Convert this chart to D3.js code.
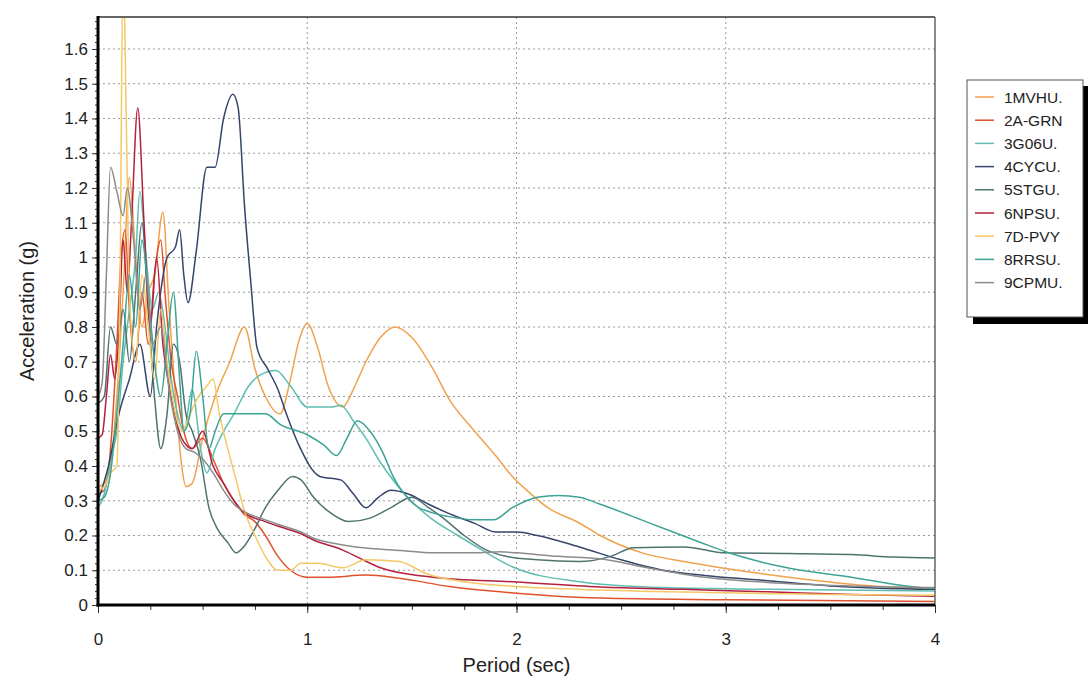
<!DOCTYPE html>
<html>
<head>
<meta charset="utf-8">
<script src="https://cdn.jsdelivr.net/npm/d3@7"></script>
<style>
  body { margin: 0; background: #fff; }
  svg { font-family: "Liberation Sans", Arial, sans-serif; }
</style>
</head>
<body>
<svg id="chart" width="1088" height="682"></svg>
<script>
// station names and line colours (legend order)
const stations = ["1MVHU.", "2A-GRN", "3G06U.", "4CYCU.", "5STGU.", "6NPSU.", "7D-PVY", "8RRSU.", "9CPMU."];
const colors = ["#f0a24e", "#e0522c", "#5fbdb1", "#34446b", "#4f7470", "#b3203e", "#f5c865", "#3da395", "#8c8c8c"];

// spectra: [period (sec), acceleration (g)]
const mvhu = [[0,0.34],[0.03,0.35],[0.06,0.4],[0.09,0.6],[0.12,0.9],[0.15,1.23],[0.18,1.0],[0.21,0.8],[0.24,0.9],[0.27,0.95],[0.31,1.13],[0.34,0.85],[0.37,0.6],[0.4,0.4],[0.42,0.34],[0.45,0.35],[0.5,0.48],[0.56,0.6],[0.63,0.7],[0.7,0.8],[0.75,0.68],[0.8,0.6],[0.87,0.55],[0.92,0.65],[0.96,0.76],[1.0,0.81],[1.05,0.74],[1.1,0.63],[1.17,0.57],[1.22,0.62],[1.28,0.7],[1.35,0.77],[1.42,0.8],[1.5,0.77],[1.6,0.68],[1.68,0.59],[1.8,0.5],[1.9,0.43],[1.98,0.37],[2.05,0.33],[2.15,0.28],[2.3,0.236],[2.4,0.2],[2.6,0.15],[2.8,0.125],[3.0,0.105],[3.3,0.08],[3.6,0.06],[4.0,0.045]];
const agrn = [[0,0.32],[0.03,0.33],[0.06,0.45],[0.09,0.75],[0.11,1.0],[0.13,1.08],[0.15,0.85],[0.18,0.7],[0.21,0.9],[0.24,0.75],[0.27,0.95],[0.3,1.05],[0.32,0.9],[0.35,0.7],[0.38,0.6],[0.41,0.5],[0.45,0.45],[0.5,0.48],[0.55,0.42],[0.6,0.35],[0.65,0.3],[0.7,0.26],[0.75,0.24],[0.8,0.2],[0.86,0.14],[0.92,0.1],[1.0,0.08],[1.1,0.08],[1.28,0.086],[1.44,0.077],[1.68,0.053],[2.0,0.034],[2.4,0.02],[3.0,0.015],[4.0,0.01]];
const g06u = [[0,0.28],[0.03,0.32],[0.06,0.42],[0.09,0.5],[0.12,0.7],[0.15,0.85],[0.18,1.0],[0.2,1.19],[0.23,1.0],[0.26,0.85],[0.29,0.9],[0.32,0.8],[0.35,0.65],[0.38,0.55],[0.41,0.5],[0.45,0.62],[0.49,0.45],[0.52,0.38],[0.56,0.45],[0.6,0.5],[0.65,0.55],[0.72,0.63],[0.77,0.66],[0.85,0.675],[0.92,0.63],[1.0,0.57],[1.06,0.57],[1.12,0.57],[1.16,0.575],[1.22,0.53],[1.28,0.48],[1.35,0.41],[1.48,0.31],[1.59,0.25],[1.72,0.2],[1.83,0.16],[1.98,0.11],[2.3,0.067],[2.7,0.05],[3.2,0.045],[4.0,0.04]];
const cycu = [[0,0.3],[0.05,0.4],[0.1,0.55],[0.15,0.65],[0.2,0.75],[0.25,0.6],[0.28,0.8],[0.33,1.0],[0.37,1.03],[0.39,1.08],[0.41,0.95],[0.43,0.87],[0.47,1.02],[0.52,1.26],[0.56,1.26],[0.6,1.4],[0.645,1.47],[0.67,1.43],[0.7,1.15],[0.73,0.93],[0.76,0.74],[0.81,0.68],[0.86,0.62],[0.9,0.55],[0.96,0.46],[1.06,0.37],[1.16,0.36],[1.22,0.32],[1.28,0.28],[1.34,0.31],[1.4,0.33],[1.48,0.32],[1.58,0.29],[1.67,0.265],[1.8,0.235],[1.9,0.21],[2.0,0.21],[2.1,0.2],[2.3,0.167],[2.5,0.13],[2.7,0.1],[2.9,0.085],[3.2,0.07],[3.5,0.055],[4.0,0.045]];
const stgu = [[0,0.58],[0.03,0.6],[0.06,0.8],[0.09,0.75],[0.12,0.85],[0.15,0.7],[0.18,0.9],[0.21,1.1],[0.24,0.85],[0.27,0.6],[0.3,0.45],[0.33,0.55],[0.36,0.75],[0.39,0.7],[0.42,0.55],[0.45,0.5],[0.49,0.42],[0.53,0.28],[0.57,0.22],[0.62,0.18],[0.66,0.15],[0.7,0.17],[0.75,0.22],[0.8,0.28],[0.86,0.33],[0.93,0.37],[0.97,0.36],[1.03,0.31],[1.1,0.27],[1.2,0.24],[1.3,0.25],[1.4,0.28],[1.5,0.31],[1.58,0.28],[1.65,0.25],[1.75,0.2],[1.85,0.16],[1.95,0.14],[2.1,0.13],[2.3,0.125],[2.45,0.14],[2.56,0.165],[2.8,0.167],[3.0,0.15],[3.3,0.148],[3.6,0.145],[3.8,0.138],[4.0,0.135]];
const npsu = [[0,0.48],[0.02,0.49],[0.04,0.6],[0.06,0.72],[0.08,0.65],[0.1,0.78],[0.12,1.05],[0.14,0.9],[0.16,1.1],[0.19,1.43],[0.22,1.1],[0.25,0.8],[0.28,1.0],[0.31,0.75],[0.35,0.6],[0.4,0.48],[0.45,0.45],[0.5,0.5],[0.55,0.4],[0.6,0.35],[0.65,0.3],[0.7,0.265],[0.8,0.24],[0.87,0.225],[0.97,0.205],[1.03,0.187],[1.17,0.158],[1.25,0.135],[1.35,0.107],[1.6,0.08],[2.0,0.066],[2.4,0.052],[2.8,0.045],[3.2,0.038],[3.6,0.03],[4.0,0.025]];
const pvy = [[0,0.33],[0.03,0.34],[0.06,0.38],[0.09,0.4],[0.105,0.9],[0.12,1.85],[0.135,1.4],[0.15,0.9],[0.18,0.7],[0.21,0.95],[0.24,0.8],[0.27,0.65],[0.3,0.85],[0.33,0.7],[0.37,0.55],[0.4,0.5],[0.44,0.55],[0.48,0.6],[0.52,0.63],[0.55,0.65],[0.58,0.55],[0.62,0.45],[0.66,0.36],[0.7,0.27],[0.75,0.2],[0.8,0.14],[0.86,0.1],[0.92,0.1],[0.97,0.12],[1.05,0.12],[1.17,0.107],[1.28,0.13],[1.44,0.125],[1.57,0.09],[1.76,0.066],[2.0,0.053],[2.4,0.043],[3.0,0.035],[3.5,0.03],[4.0,0.028]];
const rrsu = [[0,0.3],[0.03,0.31],[0.06,0.38],[0.09,0.55],[0.12,0.75],[0.15,0.95],[0.18,0.8],[0.21,1.05],[0.24,0.9],[0.27,0.7],[0.3,0.6],[0.33,0.75],[0.36,0.9],[0.39,0.65],[0.41,0.5],[0.44,0.55],[0.47,0.73],[0.5,0.6],[0.53,0.45],[0.56,0.5],[0.6,0.55],[0.7,0.55],[0.8,0.55],[0.87,0.52],[1.0,0.49],[1.08,0.46],[1.14,0.43],[1.19,0.48],[1.24,0.53],[1.3,0.5],[1.36,0.44],[1.41,0.37],[1.51,0.29],[1.6,0.265],[1.67,0.255],[1.8,0.245],[1.89,0.245],[1.98,0.28],[2.1,0.31],[2.2,0.315],[2.3,0.31],[2.4,0.29],[2.64,0.235],[2.88,0.18],[3.0,0.153],[3.27,0.11],[3.6,0.08],[3.9,0.052],[4.0,0.048]];
const cpmu = [[0,0.6],[0.02,0.64],[0.04,0.95],[0.06,1.26],[0.09,1.19],[0.12,1.12],[0.14,1.2],[0.17,1.05],[0.2,0.85],[0.23,0.95],[0.26,0.75],[0.3,0.8],[0.34,0.62],[0.38,0.5],[0.42,0.45],[0.46,0.44],[0.5,0.42],[0.55,0.38],[0.6,0.33],[0.65,0.29],[0.71,0.265],[0.8,0.245],[0.87,0.23],[0.97,0.21],[1.03,0.192],[1.15,0.175],[1.28,0.164],[1.45,0.157],[1.6,0.15],[1.8,0.15],[1.92,0.153],[2.0,0.15],[2.2,0.14],[2.4,0.133],[2.6,0.11],[2.9,0.08],[3.2,0.065],[3.6,0.055],[4.0,0.05]];

const series = [mvhu, agrn, g06u, cycu, stgu, npsu, pvy, rrsu, cpmu];

const yTicks = [0, 0.1, 0.2, 0.3, 0.4, 0.5, 0.6, 0.7, 0.8, 0.9, 1, 1.1, 1.2, 1.3, 1.4, 1.5, 1.6];
const xTicks = [0, 1, 2, 3, 4];

var svg = d3.select('#chart');

// plot box (window.top is read-only, so no bare "top")
var plotL = 98, plotR = 935, plotT = 17, plotB = 605;

var x = d3.scaleLinear().domain([0, 4]).range([plotL, plotR]);
var y = d3.scaleLinear().domain([0, 1.692]).range([plotB, plotT]);

// grid
svg.append('g').selectAll('line')
    .data(yTicks.filter(d => d > 0))
    .join('line')
    .attr('x1', plotL).attr('x2', plotR)
    .attr('y1', d => y(d)).attr('y2', d => y(d))
    .attr('stroke', '#9a9a9a')
    .attr('stroke-width', 1)
    .attr('stroke-dasharray', '2,3');

svg.append('g').selectAll('line')
    .data(xTicks.filter(d => d > 0 && d < 4))
    .join('line')
    .attr('x1', d => x(d)).attr('x2', d => x(d))
    .attr('y1', plotT).attr('y2', plotB)
    .attr('stroke', '#9a9a9a')
    .attr('stroke-width', 1)
    .attr('stroke-dasharray', '2,3');

// curves
svg.append('clipPath').attr('id', 'plot-clip')
    .append('rect')
    .attr('x', plotL).attr('y', plotT)
    .attr('width', plotR - plotL).attr('height', plotB - plotT);

var line = d3.line()
    .x(d => x(d[0]))
    .y(d => y(d[1]))
    .curve(d3.curveMonotoneX);

svg.append('g')
    .attr('clip-path', 'url(#plot-clip)')
    .selectAll('path')
    .data(series)
    .join('path')
    .attr('d', line)
    .attr('fill', 'none')
    .attr('stroke', (d, i) => colors[i])
    .attr('stroke-width', 1.5)
    .attr('stroke-linejoin', 'round');

// axes
var yAxis = d3.axisLeft(y).tickValues(yTicks).tickSize(6).tickPadding(4)
    .tickFormat(d => String(+d.toFixed(1)));
var yMinor = d3.axisLeft(y).tickValues(d3.range(0, 1.69, 0.02)).tickSize(3).tickFormat('');
var xAxis = d3.axisBottom(x).tickValues(xTicks).tickSize(8).tickPadding(20).tickFormat(d3.format('d'));
var xMinor = d3.axisBottom(x).tickValues(d3.range(0, 4.01, 0.25)).tickSize(5).tickFormat('');

function styleAxis(g) {
    g.select('.domain').remove();
    g.selectAll('line').attr('stroke', '#333');
    g.selectAll('text').attr('fill', '#222').style('font-size', '17px');
}

svg.append('g').attr('transform', `translate(${plotL},0)`).call(yMinor).call(styleAxis);
svg.append('g').attr('transform', `translate(${plotL},0)`).call(yAxis).call(styleAxis);
svg.append('g').attr('transform', `translate(0,${plotB})`).call(xMinor).call(styleAxis);
svg.append('g').attr('transform', `translate(0,${plotB})`).call(xAxis).call(styleAxis);

// frame
svg.append('line').attr('x1', plotL).attr('x2', plotR).attr('y1', plotT).attr('y2', plotT)
    .attr('stroke', '#333').attr('stroke-width', 1.5);
svg.append('line').attr('x1', plotR).attr('x2', plotR).attr('y1', plotT).attr('y2', plotB)
    .attr('stroke', '#666').attr('stroke-width', 1.5);
svg.append('line').attr('x1', plotL).attr('x2', plotL).attr('y1', plotT - 1).attr('y2', plotB + 1.5)
    .attr('stroke', '#000').attr('stroke-width', 3);
svg.append('line').attr('x1', plotL - 1.5).attr('x2', plotR).attr('y1', plotB).attr('y2', plotB)
    .attr('stroke', '#000').attr('stroke-width', 3);

// axis titles
svg.append('text')
    .attr('x', (plotL + plotR) / 2)
    .attr('y', 672)
    .attr('text-anchor', 'middle')
    .attr('fill', '#222')
    .style('font-size', '20px')
    .text('Period (sec)');

svg.append('text')
    .attr('transform', `translate(34, ${(plotT + plotB) / 2}) rotate(-90)`)
    .attr('text-anchor', 'middle')
    .attr('fill', '#222')
    .style('font-size', '20px')
    .text('Acceleration (g)');

// legend with its dropped shadow
var legend = svg.append('g');
legend.append('rect')
    .attr('x', 973).attr('y', 86)
    .attr('width', 120).attr('height', 238)
    .attr('fill', '#000');
legend.append('rect')
    .attr('x', 967).attr('y', 80)
    .attr('width', 116).attr('height', 237)
    .attr('fill', '#fff')
    .attr('stroke', '#555')
    .attr('stroke-width', 1);

var items = legend.selectAll('g.item')
    .data(stations)
    .join('g')
    .attr('class', 'item')
    .attr('transform', (d, i) => `translate(0, ${97 + i * 23.2})`);

items.append('line')
    .attr('x1', 975).attr('x2', 994)
    .attr('y1', 0).attr('y2', 0)
    .attr('stroke', (d, i) => colors[i])
    .attr('stroke-width', 1.5);

items.append('text')
    .attr('x', 1004)
    .attr('y', 5.5)
    .attr('fill', '#222')
    .style('font-size', '15.5px')
    .text(d => d);
</script>
</body>
</html>
